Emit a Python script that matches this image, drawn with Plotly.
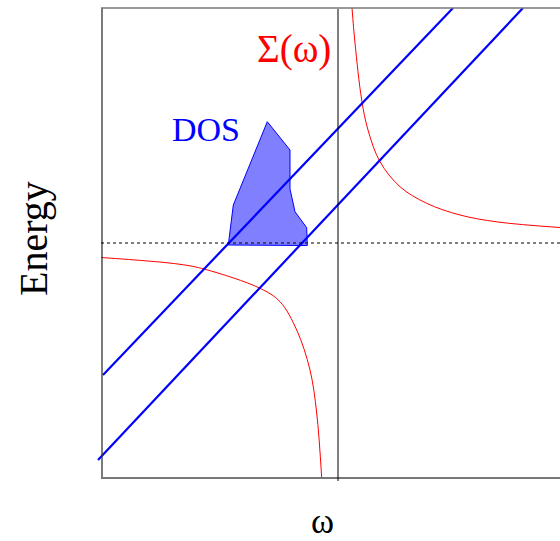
import plotly.graph_objects as go

# ---- data (omega and energy in arbitrary units) ----
sigma_upper_w = [0.14, 0.17, 0.237, 0.30, 0.42, 0.62, 0.887, 1.22, 1.60, 2.22]
sigma_upper_e = [2.35, 2.00, 1.43, 1.13, 0.813, 0.563, 0.397, 0.28, 0.21, 0.155]
sigma_lower_w = [-2.37, -1.58, -1.33, -0.78, -0.58, -0.413, -0.28, -0.213, -0.163]
sigma_lower_e = [-0.145, -0.213, -0.263, -0.453, -0.587, -0.87, -1.27, -1.70, -2.35]

band1_w = [-2.35, 1.15]
band1_e = [-1.32, 2.35]
band2_w = [-2.40, 1.85]
band2_e = [-2.17, 2.35]

dos_w = [-1.097, -1.047, -0.707, -0.48, -0.48, -0.43, -0.313, -0.307, -1.097]
dos_e = [-0.02, 0.38, 1.213, 0.93, 0.54, 0.313, 0.153, -0.025, -0.02]

labels = {"sigma": "Σ(ω)", "dos": "DOS", "x": "ω", "y": "Energy"}

# ---- layout geometry (pixels) ----
W, H = 560, 541
L, R, T, B = 96, 0, 8, 63
pw, ph = W - L - R, H - T - B
XR = [-2.42, 2.22]
YR = [-2.35, 2.35]

def px(xp):
    return (xp - L) / pw

def py(yp):
    return (H - B - yp) / ph

def dx(v):
    return (v - XR[0]) / (XR[1] - XR[0])

def dy(v):
    return (v - YR[0]) / (YR[1] - YR[0])

fig = go.Figure()

fig.add_trace(go.Scatter(x=dos_w, y=dos_e, mode="lines", fill="toself",
                         fillcolor="rgba(0,0,255,0.5)",
                         line=dict(color="#0000ff", width=1)))
fig.add_trace(go.Scatter(x=sigma_upper_w, y=sigma_upper_e, mode="lines",
                         line=dict(color="#ff0000", width=1, shape="spline")))
fig.add_trace(go.Scatter(x=sigma_lower_w, y=sigma_lower_e, mode="lines",
                         line=dict(color="#ff0000", width=1, shape="spline")))
fig.add_trace(go.Scatter(x=band1_w, y=band1_e, mode="lines",
                         line=dict(color="#0000ff", width=2.2)))
fig.add_trace(go.Scatter(x=band2_w, y=band2_e, mode="lines",
                         line=dict(color="#0000ff", width=2.2)))

shapes = [
    # frame
    dict(type="line", xref="paper", yref="paper", x0=px(102), x1=px(102),
         y0=py(478), y1=py(8), line=dict(color="#333333", width=1.3)),
    dict(type="line", xref="paper", yref="paper", x0=px(101), x1=1.02,
         y0=py(8), y1=py(8), line=dict(color="#777777", width=1.6)),
    dict(type="line", xref="paper", yref="paper", x0=px(101), x1=1.02,
         y0=py(478), y1=py(478), line=dict(color="#777777", width=2)),
    # omega = 0 line
    dict(type="line", xref="paper", yref="paper", x0=dx(0), x1=dx(0),
         y0=py(481), y1=py(9), line=dict(color="#000000", width=1)),
    # Fermi level
    dict(type="line", xref="paper", yref="paper", x0=px(101), x1=1.02,
         y0=dy(0), y1=dy(0), line=dict(color="#000000", width=1, dash="dot")),
]

font = "Liberation Serif, Times New Roman, serif"

def ann(text, x, y, size, color, angle=0):
    return dict(text=text, xref="paper", yref="paper", x=px(x), y=py(y),
                xanchor="center", yanchor="middle", showarrow=False,
                textangle=angle, font=dict(family=font, size=size, color=color))

annotations = [
    ann(labels["sigma"], 294, 49, 39, "#ff0000"),
    ann(labels["dos"], 206, 129, 34, "#0000ff"),
    ann(labels["y"], 33, 239, 40, "#000000", -90),
    ann(labels["x"], 322, 521, 35, "#000000"),
]

fig.update_layout(
    width=W, height=H,
    margin=dict(l=L, r=R, t=T, b=B),
    paper_bgcolor="white", plot_bgcolor="white",
    showlegend=False,
    xaxis=dict(range=XR, visible=False, fixedrange=True),
    yaxis=dict(range=YR, visible=False, fixedrange=True),
    shapes=shapes,
    annotations=annotations,
)

fig.write_html("out.html", config={"displayModeBar": False},
               post_script="document.body.style.margin='0';document.body.style.overflow='hidden';")
